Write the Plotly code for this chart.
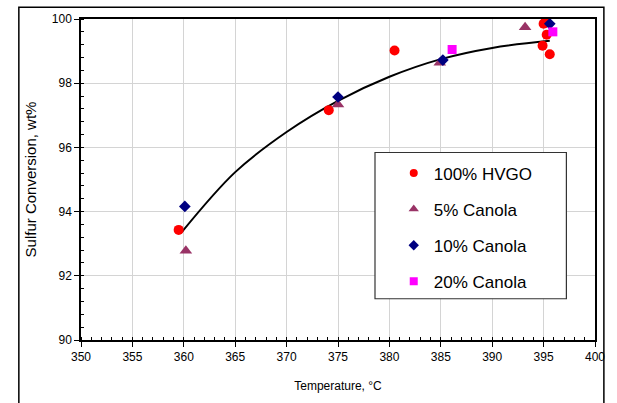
import plotly.graph_objects as go

# Data
hvgo_t = [359.5, 374.1, 380.5, 395.0, 395.2, 395.3, 394.9, 395.6]
hvgo_s = [93.43, 97.16, 99.02, 99.85, 99.94, 99.51, 99.17, 98.90]

c5_t = [360.2, 375.0, 384.9, 393.2]
c5_s = [92.78, 97.34, 98.64, 99.74]

c10_t = [360.1, 375.0, 385.2, 395.6]
c10_s = [94.16, 97.57, 98.72, 99.85]

c20_t = [386.1, 395.9]
c20_s = [99.05, 99.60]

trend_t = [359.8, 365.0, 370.0, 375.0, 380.0, 385.0, 390.0, 395.6]
trend_s = [93.36, 95.23, 96.48, 97.45, 98.20, 98.75, 99.10, 99.32]

x_ticks = [350, 355, 360, 365, 370, 375, 380, 385, 390, 395, 400]
y_ticks = [90, 92, 94, 96, 98, 100]

names = ["100% HVGO", "5% Canola", "10% Canola", "20% Canola"]
symbols = ["circle", "triangle-up", "diamond", "square"]
colors = ["#ff0000", "#993366", "#000080", "#ff00ff"]
sizes = [10, 11, 9, 9]
legend_sizes = [8, 9, 8, 8]
series = [(hvgo_t, hvgo_s), (c5_t, c5_s), (c10_t, c10_s), (c20_t, c20_s)]

FONT = "Liberation Sans, Arial, sans-serif"

fig = go.Figure()
fig.add_trace(go.Scatter(x=trend_t, y=trend_s, mode="lines",
                         line=dict(color="black", width=2, shape="spline", smoothing=1.0),
                         showlegend=False, hoverinfo="skip"))
for (xs, ys), nm, sym, col, sz in zip(series, names, symbols, colors, sizes):
    fig.add_trace(go.Scatter(x=xs, y=ys, mode="markers", name=nm, showlegend=False,
                             marker=dict(symbol=sym, color=col, size=sz)))
# legend entries with smaller symbols
for i, (nm, sym, col, sz) in enumerate(zip(names, symbols, colors, legend_sizes)):
    fig.add_trace(go.Scatter(x=[None], y=[None], mode="markers", name=nm,
                             legendgroup=str(i), showlegend=True,
                             marker=dict(symbol=sym, color=col, size=sz)))

L, R, T, B = 81, 15, 17, 59
W, H = 617, 403
pw, ph = W - L - R, H - T - B

def px(xp):
    return (xp - L) / pw

def py(yp):
    return (H - B - yp) / ph

fig.update_layout(
    width=W, height=H,
    margin=dict(l=L, r=R, t=T, b=B),
    paper_bgcolor="white", plot_bgcolor="white",
    font=dict(family=FONT, color="black", size=12),
    showlegend=True,
    legend=dict(x=px(398), y=py(156), xanchor="left", yanchor="top",
                bgcolor="rgba(0,0,0,0)", borderwidth=0,
                font=dict(size=17, family=FONT, color="black"),
                tracegroupgap=11, itemsizing="trace"),
    shapes=[
        dict(type="rect", xref="paper", yref="paper",
             x0=px(379), x1=px(573), y0=py(302), y1=py(153),
             line=dict(color="#333333", width=1.2), fillcolor="white", layer="above"),
        dict(type="rect", xref="paper", yref="paper",
             x0=px(18), x1=px(611), y0=py(420), y1=py(5),
             line=dict(color="black", width=1.5), fillcolor="rgba(0,0,0,0)", layer="below"),
    ],
)

fig.update_xaxes(
    range=[350, 400], tickvals=x_ticks, ticktext=[str(v) for v in x_ticks],
    showgrid=True, gridcolor="#d4d4d4", gridwidth=1,
    showline=True, linecolor="black", linewidth=1.5, mirror=True,
    ticks="outside", ticklen=5, tickcolor="black", tickwidth=1,
    minor=dict(dtick=1, ticks="inside", ticklen=3, tickcolor="black", showgrid=False),
    tickfont=dict(size=12), zeroline=False,
    title=dict(text="Temperature, °C", font=dict(size=12), standoff=18),
)
fig.update_yaxes(
    range=[90, 100], tickvals=y_ticks, ticktext=[str(v) for v in y_ticks],
    showgrid=True, gridcolor="#d4d4d4", gridwidth=1,
    showline=True, linecolor="black", linewidth=1.5, mirror=True,
    ticks="outside", ticklen=5, tickcolor="black", tickwidth=1,
    minor=dict(dtick=0.4, ticks="inside", ticklen=3, tickcolor="black", showgrid=False),
    tickfont=dict(size=12), zeroline=False,
    title=dict(text="Sulfur Conversion, wt%", font=dict(size=15), standoff=12),
)

fig.write_html("out.html")
